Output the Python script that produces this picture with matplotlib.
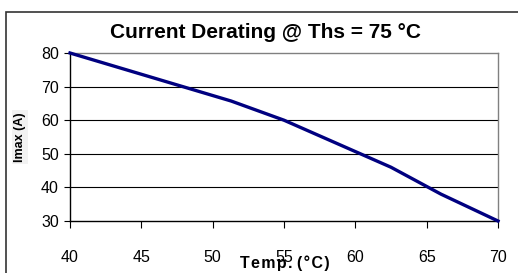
import matplotlib
matplotlib.use("Agg")
import matplotlib.pyplot as plt
from matplotlib.patches import Rectangle

# derating curve
temp = [40, 51.3, 55, 62.5, 66, 70]
imax = [80, 65.7, 60, 46, 38, 30]

xticks = [40, 45, 50, 55, 60, 65, 70]
yticks = [30, 40, 50, 60, 70, 80]

W, H = 518, 273
plt.rcParams['font.family'] = ['Liberation Sans', 'DejaVu Sans']

fig = plt.figure(figsize=(W / 100, H / 100), dpi=100)

# outer chart frame (cut off at right and bottom)
top = 1 - 12 / H
fig.patches.append(Rectangle((6 / W, -0.1), 1.2, top + 0.1,
                             transform=fig.transFigure, fill=False,
                             edgecolor='#333333', linewidth=1.2))

ax = fig.add_axes([70 / W, 1 - 221 / H, (498 - 70) / W, (221 - 53) / H])

for y in yticks[1:-1]:
    ax.axhline(y, color='black', linewidth=0.8, zorder=1)

ax.plot(temp, imax, color='#000080', linewidth=2.4, zorder=3, clip_on=False)

ax.set_xlim(40, 70)
ax.set_ylim(30, 80)
ax.set_xticks(xticks)
ax.set_yticks(yticks)
ax.tick_params(axis='x', direction='out', length=5, width=0.8, pad=16, labelsize=11.5)
ax.tick_params(axis='y', direction='out', length=4, width=0.8, pad=4, labelsize=11.5)

ax.spines['left'].set_color('black')
ax.spines['bottom'].set_color('black')
ax.spines['top'].set_color('#808080')
ax.spines['right'].set_color('#808080')
for s in ax.spines.values():
    s.set_linewidth(1.0)

hs = '\u200a'  # hair space, the reference label is letter-spaced
fig.text(266 / W, 1 - 32 / H, 'Current Derating @ Ths = 75 °C',
         ha='center', va='center', fontsize=15, fontweight='bold')
fig.text(285 / W, 1 - 263 / H, hs.join('Temp.') + ' ' + hs.join('(°C)'),
         ha='center', va='center', fontsize=11.5, fontweight='bold')
fig.text(20 / W, 1 - 137 / H, 'Imax (A)', rotation=90,
         ha='center', va='center', fontsize=9, fontweight='bold',
         bbox=dict(facecolor='#f2f2f2', edgecolor='none', pad=1.5))

fig.savefig('out.png', dpi=100)
